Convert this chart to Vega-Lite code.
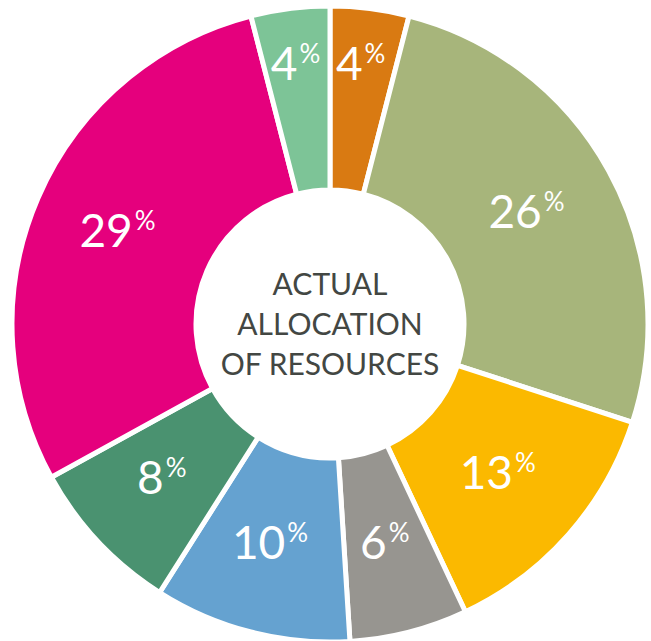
{
  "$schema": "https://vega.github.io/schema/vega-lite/v6.json",
  "autosize": {"type": "none"},
  "padding": 0,
  "width": 660,
  "height": 648,
  "background": "white",
  "config": {"view": {"stroke": null}},
  "data": {
    "values": [
      {"category": "Orange", "value": 4, "order": 1},
      {"category": "Olive", "value": 26, "order": 2},
      {"category": "Yellow", "value": 13, "order": 3},
      {"category": "Gray", "value": 6, "order": 4},
      {"category": "Blue", "value": 10, "order": 5},
      {"category": "Dark green", "value": 8, "order": 6},
      {"category": "Magenta", "value": 29, "order": 7},
      {"category": "Light green", "value": 4, "order": 8}
    ]
  },
  "layer": [
    {
      "mark": {"type": "arc", "outerRadius": 318, "innerRadius": 134, "stroke": "white", "strokeWidth": 5},
      "encoding": {
        "theta": {"field": "value", "type": "quantitative", "stack": true, "scale": {"domain": [0, 100]}},
        "order": {"field": "order", "type": "quantitative"},
        "color": {
          "field": "category", "type": "nominal", "legend": null,
          "scale": {
            "domain": ["Orange", "Olive", "Yellow", "Gray", "Blue", "Dark green", "Magenta", "Light green"],
            "range": ["#D97A12", "#A7B57B", "#FBB900", "#979590", "#65A2D0", "#4A9270", "#E5007D", "#7DC497"]
          }
        }
      }
    },
    {
      "mark": {
        "type": "text", "font": "Lato", "fontSize": 46, "color": "white", "align": "right", "baseline": "middle",
        "radius": {"expr": "datum.value < 5 ? 260 : 228"},
        "dx": {"expr": "datum.value >= 10 ? 12 : 0"}
      },
      "encoding": {
        "theta": {"field": "value", "type": "quantitative", "stack": true, "scale": {"domain": [0, 100]}},
        "order": {"field": "order", "type": "quantitative"},
        "detail": {"field": "category", "type": "nominal"},
        "text": {"field": "value", "type": "quantitative"}
      }
    },
    {
      "mark": {
        "type": "text", "font": "Lato", "fontSize": 26, "color": "white", "align": "left", "baseline": "top", "text": "%",
        "radius": {"expr": "datum.value < 5 ? 260 : 228"},
        "dx": {"expr": "datum.value >= 10 ? 14 : 2"},
        "dy": -24
      },
      "encoding": {
        "theta": {"field": "value", "type": "quantitative", "stack": true, "scale": {"domain": [0, 100]}},
        "order": {"field": "order", "type": "quantitative"},
        "detail": {"field": "category", "type": "nominal"}
      }
    },
    {
      "data": {"values": [{"title": "ACTUAL ALLOCATION OF RESOURCES"}]},
      "mark": {
        "type": "text", "font": "Lato", "fontSize": 30, "fontWeight": 400, "color": "#434743", "align": "center", "baseline": "middle",
        "lineHeight": 40, "dy": -38,
        "text": ["ACTUAL", "ALLOCATION", "OF RESOURCES"]
      },
      "encoding": {}
    }
  ]
}
